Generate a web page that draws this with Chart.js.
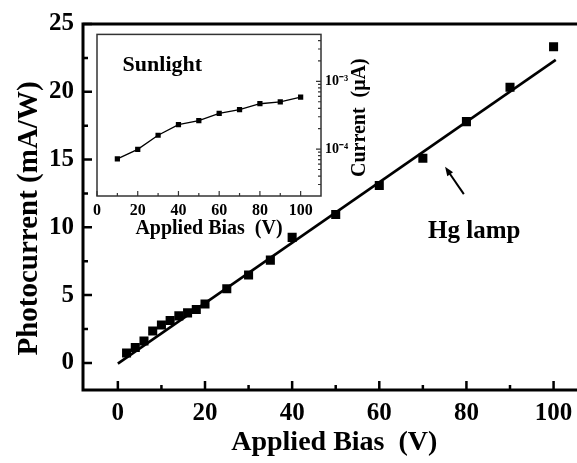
<!DOCTYPE html>
<html><head><meta charset="utf-8">
<script src="https://cdn.jsdelivr.net/npm/chart.js@4.4.0/dist/chart.umd.min.js"></script>
<style>
html,body{margin:0;padding:0;background:#fff;overflow:hidden}
#wrap{position:relative;width:577px;height:463px;overflow:hidden;background:#fff}
#main{position:absolute;left:0;top:0}
#inset{position:absolute;left:88px;top:22px}
</style></head><body>
<div id="wrap"><canvas id="main" width="592" height="463"></canvas><canvas id="inset" width="292" height="226"></canvas></div>
<script>
// ---- main chart data (Hg lamp) ----
const biasHg = [2,4,6,8,10,12,14,16,18,20,25,30,35,40,50,60,70,80,90,100];
const photoHg = [0.73,1.14,1.62,2.35,2.8,3.13,3.47,3.69,3.94,4.35,5.47,6.49,7.58,9.26,10.95,13.09,15.09,17.8,20.33,23.32];
const fitBias = [0,100.5];
const fitPhoto = [-0.05,22.35];
const xTicksMain = [0,20,40,60,80,100];
const xMinorMain = [10,30,50,70,90];
const yTicksMain = [0,5,10,15,20,25];
const yMinorMain = [2.5,7.5,12.5,17.5,22.5];
const yTitleMain = 'Photocurrent (mA/W)';
// ---- inset data (Sunlight) ----
const biasSun = [10,20,30,40,50,60,70,80,90,100];
const currentSun = [7.15e-5,9.9e-5,1.6e-4,2.29e-4,2.64e-4,3.36e-4,3.83e-4,4.67e-4,4.98e-4,5.87e-4];
const xTicksInset = [0,20,40,60,80,100];
const xMinorInset = [10,30,50,70,90];
const yTicksInset = [1e-4,1e-3];
const yTickLabelsInset = ['10\u207B\u2074','10\u207B\u00B3'];
const yMinorInset = [3e-5,4e-5,5e-5,6e-5,7e-5,8e-5,9e-5,2e-4,3e-4,4e-4,5e-4,6e-4,7e-4,8e-4,9e-4,2e-3,3e-3,4e-3];
const yTitleInset = 'Current  (\u03BCA)';

const SERIF = "'Liberation Serif','Times New Roman',serif";

const mainFrame = {
  id: 'mainFrame',
  afterDraw(chart) {
    const {ctx, chartArea: a, scales: {x, y}} = chart;
    ctx.save();
    ctx.strokeStyle = '#000';
    ctx.lineWidth = 3;
    ctx.strokeRect(a.left, a.top, a.right - a.left, a.bottom - a.top);
    ctx.lineWidth = 2.5;
    ctx.beginPath();
    xTicksMain.forEach(v => { const p = x.getPixelForValue(v); ctx.moveTo(p, a.bottom); ctx.lineTo(p, a.bottom - 9); });
    xMinorMain.forEach(v => { const p = x.getPixelForValue(v); ctx.moveTo(p, a.bottom); ctx.lineTo(p, a.bottom - 5); });
    yTicksMain.forEach(v => { const p = y.getPixelForValue(v); ctx.moveTo(a.left, p); ctx.lineTo(a.left + 9, p); });
    yMinorMain.forEach(v => { const p = y.getPixelForValue(v); ctx.moveTo(a.left, p); ctx.lineTo(a.left + 5, p); });
    ctx.stroke();
    ctx.fillStyle = '#000';
    ctx.textAlign = 'center';
    ctx.textBaseline = 'middle';
    // y axis title (rotated)
    ctx.save();
    ctx.translate(29.5, (a.top + a.bottom) / 2 + 11.5);
    ctx.rotate(-Math.PI / 2);
    ctx.font = "bold 29px " + SERIF;
    ctx.fillText(yTitleMain, 0, 0);
    ctx.restore();
    // annotation text
    ctx.font = "bold 25px " + SERIF;
    ctx.fillText('Hg lamp', x.getPixelForValue(81.8), y.getPixelForValue(9.66));
    // arrow
    const tx = x.getPixelForValue(79.4), ty = y.getPixelForValue(12.45);
    const hx = x.getPixelForValue(75.1), hy = y.getPixelForValue(14.47);
    const ang = Math.atan2(hy - ty, hx - tx);
    ctx.lineWidth = 2;
    ctx.beginPath();
    ctx.moveTo(tx, ty);
    ctx.lineTo(hx - 6 * Math.cos(ang), hy - 6 * Math.sin(ang));
    ctx.stroke();
    ctx.beginPath();
    ctx.moveTo(hx, hy);
    ctx.lineTo(hx - 9 * Math.cos(ang) + 3.5 * Math.sin(ang), hy - 9 * Math.sin(ang) - 3.5 * Math.cos(ang));
    ctx.lineTo(hx - 9 * Math.cos(ang) - 3.5 * Math.sin(ang), hy - 9 * Math.sin(ang) + 3.5 * Math.cos(ang));
    ctx.closePath();
    ctx.fill();
    ctx.restore();
  }
};

new Chart(document.getElementById('main'), {
  type: 'scatter',
  data: {
    datasets: [
      {
        label: 'Hg lamp',
        data: biasHg.map((b, i) => ({x: b, y: photoHg[i]})),
        pointStyle: 'rect',
        pointRadius: 6.4,
        pointBorderWidth: 0,
        backgroundColor: '#000',
        borderColor: '#000'
      },
      {
        label: 'fit',
        type: 'line',
        data: fitBias.map((b, i) => ({x: b, y: fitPhoto[i]})),
        borderColor: '#000',
        borderWidth: 2.6,
        pointRadius: 0,
        fill: false
      }
    ]
  },
  options: {
    responsive: false,
    animation: false,
    layout: {padding: {top: 20, left: 0, right: 2, bottom: 0}},
    plugins: {legend: {display: false}, tooltip: {enabled: false}},
    scales: {
      x: {
        type: 'linear', min: -8, max: 107.35,
        afterBuildTicks: s => { s.ticks = xTicksMain.map(v => ({value: v})); },
        afterFit: s => { s.height = 73; },
        grid: {display: false, drawTicks: false},
        border: {display: false},
        ticks: {color: '#000', padding: 9, maxRotation: 0, font: {family: SERIF, weight: 'bold', size: 25}},
        title: {display: true, text: 'Applied Bias  (V)', color: '#000', padding: {top: 0, bottom: 3}, font: {family: SERIF, weight: 'bold', size: 28}}
      },
      y: {
        type: 'linear', min: -2, max: 25,
        afterBuildTicks: s => { s.ticks = yTicksMain.map(v => ({value: v})); },
        afterFit: s => { s.width = 83; },
        grid: {display: false, drawTicks: false},
        border: {display: false},
        ticks: {color: '#000', padding: 9, font: {family: SERIF, weight: 'bold', size: 25}},
        title: {display: false}
      }
    }
  },
  plugins: [mainFrame]
});

const insetFrame = {
  id: 'insetFrame',
  beforeDraw(chart) {
    const {ctx, chartArea: a} = chart;
    ctx.save();
    ctx.fillStyle = '#fff';
    ctx.fillRect(a.left, a.top, a.right - a.left, a.bottom - a.top);
    ctx.restore();
  },
  afterDraw(chart) {
    const {ctx, chartArea: a, scales: {x, y}} = chart;
    ctx.save();
    ctx.strokeStyle = '#333';
    ctx.lineWidth = 1.5;
    ctx.strokeRect(a.left, a.top, a.right - a.left, a.bottom - a.top);
    ctx.lineWidth = 1.2;
    ctx.beginPath();
    xTicksInset.forEach(v => { const p = x.getPixelForValue(v); ctx.moveTo(p, a.bottom); ctx.lineTo(p, a.bottom - 5); });
    xMinorInset.forEach(v => { const p = x.getPixelForValue(v); ctx.moveTo(p, a.bottom); ctx.lineTo(p, a.bottom - 3); });
    yTicksInset.forEach(v => { const p = y.getPixelForValue(v); ctx.moveTo(a.right, p); ctx.lineTo(a.right - 5, p); });
    yMinorInset.forEach(v => { const p = y.getPixelForValue(v); ctx.moveTo(a.right, p); ctx.lineTo(a.right - 3, p); });
    ctx.stroke();
    ctx.fillStyle = '#000';
    ctx.font = "bold 22px " + SERIF;
    ctx.textAlign = 'center';
    ctx.textBaseline = 'middle';
    ctx.fillText('Sunlight', x.getPixelForValue(32.1), y.getPixelForValue(1.72e-3));
    // right-side axis title, reading bottom to top
    ctx.translate(a.right + 38.5, (a.top + a.bottom) / 2 + 2.5);
    ctx.rotate(-Math.PI / 2);
    ctx.font = "bold 20px " + SERIF;
    ctx.fillText(yTitleInset, 0, 0);
    ctx.restore();
  }
};

new Chart(document.getElementById('inset'), {
  type: 'line',
  data: {
    datasets: [{
      label: 'Sunlight',
      data: biasSun.map((b, i) => ({x: b, y: currentSun[i]})),
      borderColor: '#000',
      backgroundColor: '#000',
      borderWidth: 1.3,
      pointStyle: 'rect',
      pointRadius: 3.7,
      pointBorderWidth: 0,
      fill: false,
      tension: 0
    }]
  },
  options: {
    responsive: false,
    animation: false,
    layout: {padding: {top: 7, left: 7, right: 0, bottom: 0}},
    plugins: {legend: {display: false}, tooltip: {enabled: false}},
    scales: {
      x: {
        type: 'linear', min: 0, max: 110,
        afterBuildTicks: s => { s.ticks = xTicksInset.map(v => ({value: v})); },
        afterFit: s => { s.height = 52; },
        grid: {display: false, drawTicks: false},
        border: {display: false},
        ticks: {color: '#000', padding: 5, maxRotation: 0, font: {family: SERIF, weight: 'bold', size: 16}},
        title: {display: true, text: 'Applied Bias  (V)', color: '#000', padding: {top: 0, bottom: 7}, font: {family: SERIF, weight: 'bold', size: 20}}
      },
      y: {
        type: 'logarithmic', position: 'right', min: 2.03e-5, max: 4.93e-3,
        afterBuildTicks: s => { s.ticks = yTicksInset.map(v => ({value: v})); },
        afterFit: s => { s.width = 59; },
        grid: {display: false, drawTicks: false},
        border: {display: false},
        ticks: {color: '#000', padding: 4, font: {family: SERIF, weight: 'bold', size: 14},
          callback: (v) => { const i = yTicksInset.indexOf(v); return i >= 0 ? yTickLabelsInset[i] : ''; }}
      }
    }
  },
  plugins: [insetFrame]
});
</script>
</body></html>
